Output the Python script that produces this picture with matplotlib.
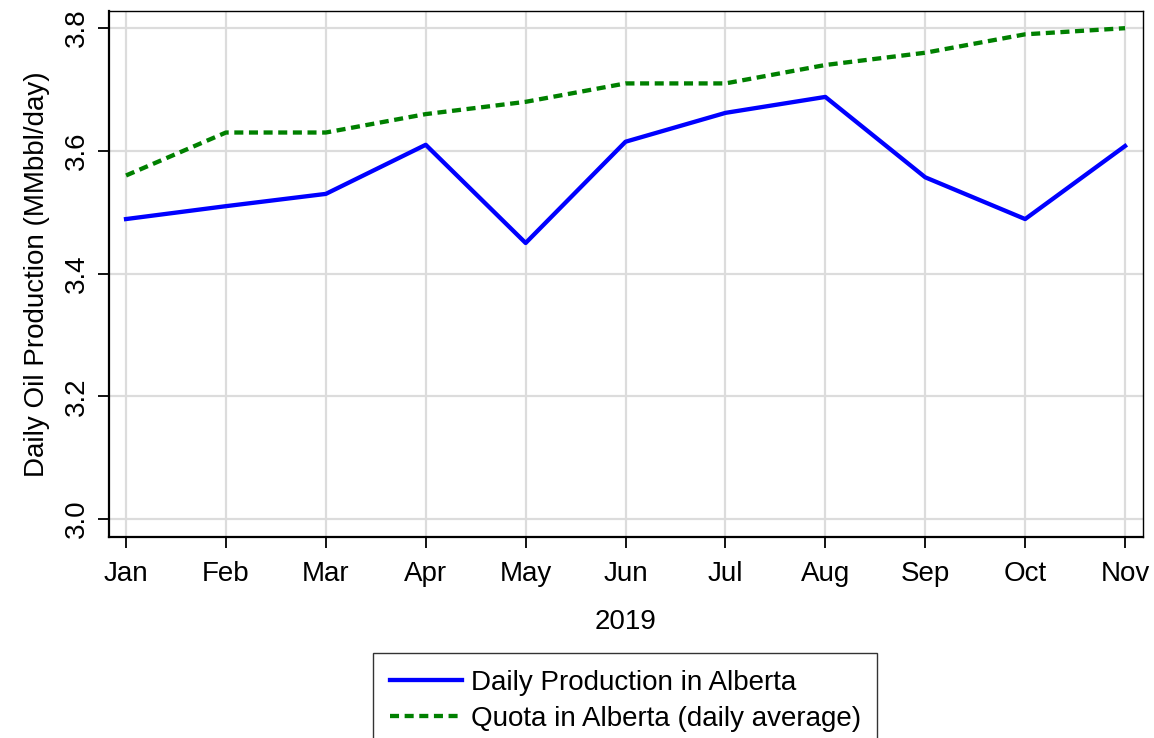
import matplotlib.pyplot as plt

plt.rcParams['font.family'] = ['Liberation Sans', 'DejaVu Sans']

# Monthly values, 2019
months = ['Jan', 'Feb', 'Mar', 'Apr', 'May', 'Jun', 'Jul', 'Aug', 'Sep', 'Oct', 'Nov']
production = [3.489, 3.510, 3.530, 3.610, 3.450, 3.615, 3.662, 3.688, 3.557, 3.489, 3.608]
quota = [3.56, 3.63, 3.63, 3.66, 3.68, 3.71, 3.71, 3.74, 3.76, 3.79, 3.80]
y_ticks = [3.0, 3.2, 3.4, 3.6, 3.8]

fig = plt.figure(figsize=(11.54, 7.38), dpi=100)
ax = fig.add_axes([0.0945, 0.2724, 0.896, 0.7127])

x = list(range(len(months)))
ax.plot(x, production, color='#0000ff', lw=3.1,
        label='Daily Production in Alberta', zorder=3)
ax.plot(x, quota, color='#008000', lw=3.1, ls=(0, (2.1, 1.3)),
        label='Quota in Alberta (daily average)', zorder=3)

ax.set_xlim(-0.17, len(months) - 1 + 0.18)
ax.set_ylim(2.971, 3.828)
ax.set_xticks(x)
ax.set_xticklabels(months)
ax.set_yticks(y_ticks)
ax.set_yticklabels([f'{v:.1f}' for v in y_ticks], rotation=90, va='center')

ax.grid(True, color='#dcdcdc', lw=1.6, zorder=0)
ax.tick_params(axis='both', direction='out', length=8, width=1.3,
               labelsize=20, pad=9)
ax.tick_params(axis='y', pad=6)

for side in ['left', 'bottom']:
    ax.spines[side].set_linewidth(1.6)
for side in ['top', 'right']:
    ax.spines[side].set_linewidth(1.0)

ax.set_ylabel('Daily Oil Production (MMbbl/day)', fontsize=20, labelpad=10)
ax.set_xlabel('2019', fontsize=20, labelpad=16)

leg = fig.legend(loc='upper center', bbox_to_anchor=(0.542, 0.1152),
                 fontsize=20, frameon=True, fancybox=False, edgecolor='black',
                 handlelength=2.6, handletextpad=0.3, borderpad=0.6,
                 labelspacing=0.38, borderaxespad=0)
leg.get_frame().set_linewidth(1.0)

fig.savefig('out.png', dpi=100)
